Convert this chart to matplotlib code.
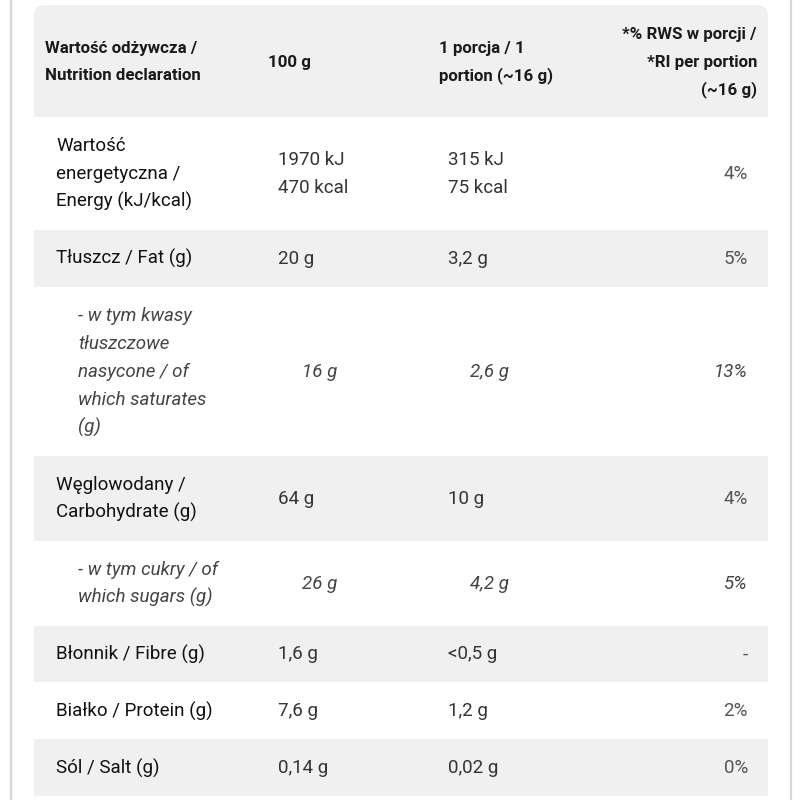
import matplotlib
matplotlib.use("Agg")
import matplotlib.pyplot as plt
from matplotlib.patches import Rectangle, FancyBboxPatch

plt.rcParams['font.family'] = ['Roboto', 'DejaVu Sans']

# table content
header = [
    ["Wartość odżywcza /", "Nutrition declaration"],
    ["100 g"],
    ["1 porcja / 1", "portion (~16 g)"],
    ["*% RWS w porcji /", "*RI per portion", "(~16 g)"],
]
labels = [
    ["Wartość", "energetyczna /", "Energy (kJ/kcal)"],
    ["Tłuszcz / Fat (g)"],
    ["- w tym kwasy", "tłuszczowe", "nasycone / of", "which saturates", "(g)"],
    ["Węglowodany /", "Carbohydrate (g)"],
    ["- w tym cukry / of", "which sugars (g)"],
    ["Błonnik / Fibre (g)"],
    ["Białko / Protein (g)"],
    ["Sól / Salt (g)"],
]
per_100g = [["1970 kJ", "470 kcal"], ["20 g"], ["16 g"], ["64 g"], ["26 g"],
            ["1,6 g"], ["7,6 g"], ["0,14 g"]]
per_portion = [["315 kJ", "75 kcal"], ["3,2 g"], ["2,6 g"], ["10 g"], ["4,2 g"],
               ["<0,5 g"], ["1,2 g"], ["0,02 g"]]
ri_pct = ["4%", "5%", "13%", "4%", "5%", "-", "2%", "0%"]
is_sub = [False, False, True, False, True, False, False, False]

GRAY = "#f0f0f0"
LINE_H = 28
X0, X1 = 34, 768
BODY_FS = 13.5
HEAD_FS = 12.2

fig = plt.figure(figsize=(8, 8), dpi=100)
ax = fig.add_axes([0, 0, 1, 1])
ax.set_xlim(0, 800)
ax.set_ylim(800, 0)
ax.axis("off")

# side borders
ax.plot([10.5, 10.5], [0, 800], color="#d8d8d8", lw=1.6)
ax.plot([790.5, 790.5], [0, 800], color="#d8d8d8", lw=1.6)


def put_lines(x, yc, lines, **kw):
    n = len(lines)
    for i, s in enumerate(lines):
        y = yc + (i - (n - 1) / 2) * LINE_H
        ax.text(x, y + 5.5, s, va="baseline", **kw)


# header
y = 5
h = LINE_H * (max(len(c) for c in header) + 1)
ax.add_patch(FancyBboxPatch((X0 + 10, y + 10), X1 - X0 - 20, h - 20,
                            boxstyle="round,pad=10", fc=GRAY, ec="none"))
ax.add_patch(Rectangle((X0, y + h / 2), X1 - X0, h / 2, fc=GRAY, ec="none"))
yc = y + h / 2
hkw = dict(fontsize=HEAD_FS, fontweight="bold", color="#1a1a1a")
put_lines(45, yc, header[0], **hkw)
put_lines(268, yc, header[1], **hkw)
put_lines(439, yc, header[2], **hkw)
put_lines(757, yc, header[3], ha="right", **hkw)
y += h

for i in range(len(labels)):
    n = max(len(labels[i]), len(per_100g[i]))
    h = LINE_H * (n + 1) + 0.9
    if i % 2 == 1:
        ax.add_patch(Rectangle((X0, y), X1 - X0, h, fc=GRAY, ec="none"))
    yc = y + h / 2
    if is_sub[i]:
        st = dict(fontsize=BODY_FS, style="italic", color="#444444")
        put_lines(78, yc, labels[i], **st)
        put_lines(302, yc, per_100g[i], **st)
        put_lines(470, yc, per_portion[i], **st)
        put_lines(748, yc, [ri_pct[i]], ha="right", **st)
    else:
        put_lines(56, yc, labels[i], fontsize=BODY_FS, color="#111111")
        put_lines(278, yc, per_100g[i], fontsize=BODY_FS, color="#333333")
        put_lines(448, yc, per_portion[i], fontsize=BODY_FS, color="#333333")
        put_lines(748, yc, [ri_pct[i]], ha="right", fontsize=BODY_FS,
                  color="#555555")
    y += h

fig.savefig("out.png", dpi=100, facecolor="white")
